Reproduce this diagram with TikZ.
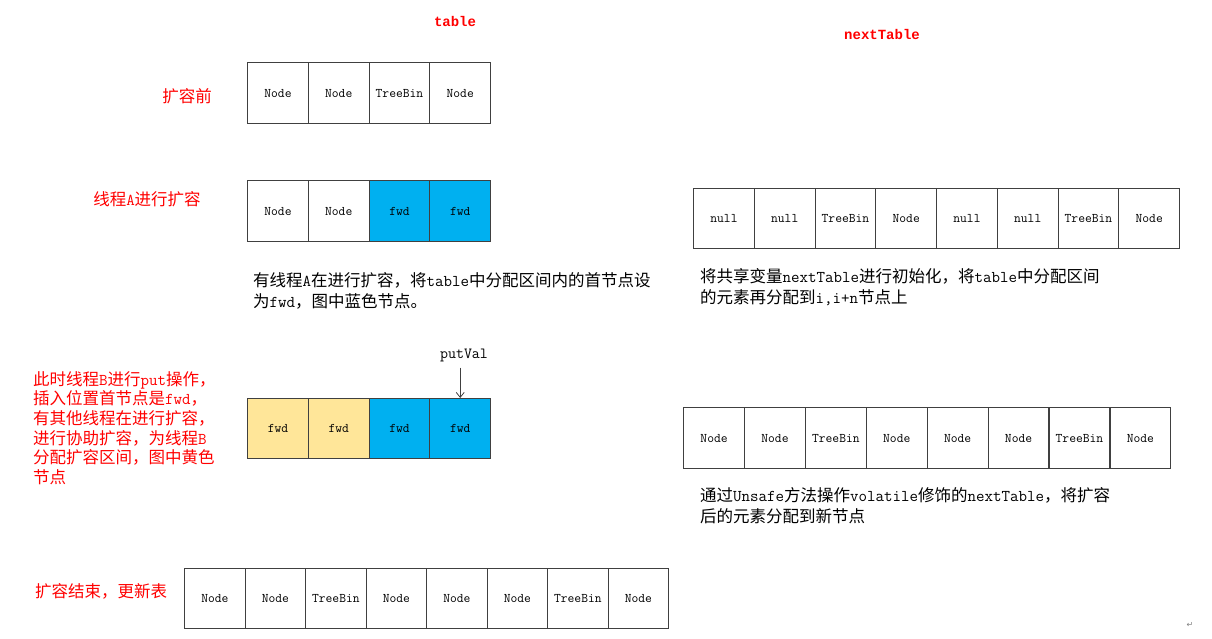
\documentclass[tikz,border=0pt]{standalone}
\usepackage{fontspec}
\setmonofont{Latin Modern Mono}
\newfontfamily\cjk{Noto Sans CJK SC}
\newfontfamily\monob{Liberation Mono}
\newfontfamily\sym{DejaVu Sans}
\usetikzlibrary{arrows.meta}
\definecolor{fwdblue}{HTML}{00B0F0}
\definecolor{fwdyellow}{HTML}{FFE699}
\definecolor{boxline}{HTML}{404040}
\newcommand\lt[1]{{\ttfamily #1}}
\begin{document}
\begin{tikzpicture}[x=1pt,y=-1pt,
 cell/.style={draw=boxline,line width=1.2pt,minimum width=60.75pt,minimum height=61pt,inner sep=0pt,anchor=north west,font=\ttfamily\fontsize{13.2}{14}\selectfont},
 redlbl/.style={text=red,font=\cjk\fontsize{16.5}{19.6}\selectfont,inner sep=0pt},
 desc/.style={text=black,font=\cjk\fontsize{16.5}{21}\selectfont,inner sep=0pt,align=left,anchor=west},
 ttl/.style={text=red,font=\monob\bfseries\fontsize{14}{14}\selectfont,inner sep=0pt},
 ptr/.style={draw=black!75,line width=0.8pt,-{Straight Barb[length=5pt,width=8pt]}}]
\useasboundingbox (0,0) rectangle (1212,638);
\node[ttl] (t1) at (455,21) {table};
\node[ttl] (t2) at (882,34) {nextTable};
% row 1
\foreach \t [count=\i] in {Node,Node,TreeBin,Node}
  \node[cell] (a\i) at ({247+(\i-1)*60.75},62) {\t};
% row 2
\foreach \t/\c [count=\i] in {Node/white,Node/white,fwd/fwdblue,fwd/fwdblue}
  \node[cell,fill=\c] (b\i) at ({247+(\i-1)*60.75},180) {\t};
% row 3
\foreach \t/\c [count=\i] in {fwd/fwdyellow,fwd/fwdyellow,fwd/fwdblue,fwd/fwdblue}
  \node[cell,fill=\c,minimum height=60pt] (c\i) at ({247+(\i-1)*60.75},398) {\t};
% row 4
\foreach \t [count=\i] in {Node,Node,TreeBin,Node,Node,Node,TreeBin,Node}
  \node[cell,minimum width=60.5pt,minimum height=60pt] (d\i) at ({184+(\i-1)*60.5},568) {\t};
% nextTable row 1
\foreach \t [count=\i] in {null,null,TreeBin,Node,null,null,TreeBin,Node}
  \node[cell,minimum height=60pt] (n\i) at ({693+(\i-1)*60.75},188) {\t};
% nextTable row 2
\foreach \t [count=\i] in {Node,Node,TreeBin,Node,Node,Node,TreeBin,Node}
  \node[cell,minimum width=60.9pt] (m\i) at ({683+(\i-1)*60.9},407) {\t};
% putVal
\node[inner sep=0pt,font=\ttfamily\fontsize{15.5}{15.5}\selectfont] (pv) at (464,355) {putVal};
\draw[ptr,shorten <=6pt] (pv.south -| c4.north) -- (c4.north);
% red labels
\node[redlbl] (l1) at (187,96) {扩容前};
\node[redlbl] (l2) at (147,199) {线程\lt{A}进行扩容};
\node[redlbl,align=left,anchor=west] (l3) at (33,428) {此时线程\lt{B}进行\lt{put}操作，\\插入位置首节点是\lt{fwd}，\\有其他线程在进行扩容，\\进行协助扩容，为线程\lt{B}\\分配扩容区间，图中黄色\\节点};
\node[redlbl] (l4) at (101,591) {扩容结束，更新表};
% descriptions
\node[desc] (e1) at (253,290.5) {有线程\lt{A}在进行扩容，将\lt{table}中分配区间内的首节点设\\为\lt{fwd}，图中蓝色节点。};
\node[desc] (e2) at (700,287) {将共享变量\lt{nextTable}进行初始化，将\lt{table}中分配区间\\的元素再分配到\lt{i,i+n}节点上};
\node[desc] (e3) at (700,505.5) {通过\lt{Unsafe}方法操作\lt{volatile}修饰的\lt{nextTable}，将扩容\\后的元素分配到新节点};
\node[text=gray,font=\sym\fontsize{8}{8}\selectfont,inner sep=0pt] (ret) at (1190,625) {↵};
\end{tikzpicture}
\end{document}
